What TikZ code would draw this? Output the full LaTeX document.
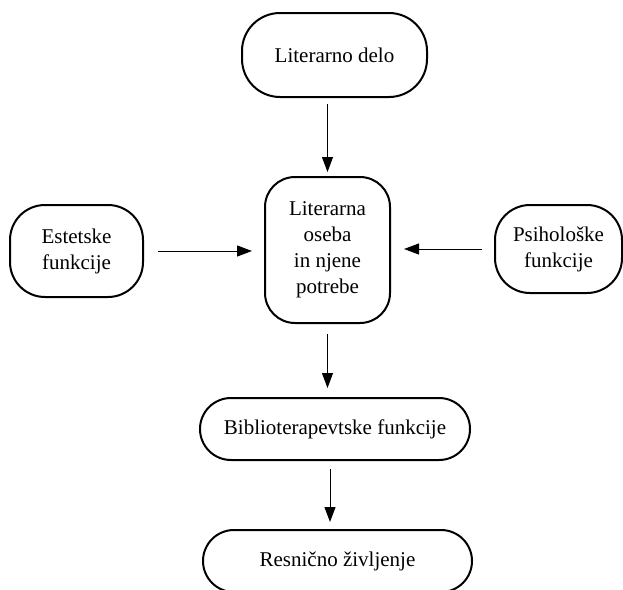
\documentclass[tikz,border=0pt]{standalone}
\usepackage{fontspec}
\setmainfont{Liberation Serif}
\usetikzlibrary{arrows.meta}
\begin{document}
\begin{tikzpicture}[x=1pt, y=-1pt,
  box/.style={draw, line width=2pt, inner sep=0pt, align=center,
    font=\fontsize{21}{26}\selectfont},
  arr/.style={line width=1pt, -{Triangle[length=15pt, width=11pt]}}]
  \useasboundingbox (0,0) rectangle (623,589);
  \clip (0,0) rectangle (623,589);

  % boxes
  \node[box, rounded corners=38pt, minimum width=185pt, minimum height=84pt]
    (lit) at (334.5,55) {Literarno delo};
  \node[box, rounded corners=30pt, minimum width=125pt, minimum height=146pt]
    (oseba) at (327.5,250) {Literarna\\oseba\\in njene\\potrebe};
  \node[box, rounded corners=35pt, minimum width=133pt, minimum height=92pt]
    (est) at (76.5,251) {Estetske\\funkcije};
  \node[box, rounded corners=35pt, minimum width=127pt, minimum height=88pt]
    (psi) at (558.5,249) {Psihološke\\funkcije};
  \node[box, rounded corners=31pt, minimum width=270pt, minimum height=62pt]
    (bib) at (335,429) {Biblioterapevtske funkcije};
  \node[box, rounded corners=31pt, minimum width=269pt, minimum height=62pt]
    (res) at (337.5,561) {Resnično življenje};

  % connectors
  \draw[arr, shorten <=6pt, shorten >=4pt] (oseba.north |- lit.south) -- (oseba.north);
  \draw[arr, shorten <=14pt, shorten >=12pt] (est.east) -- (est.east -| oseba.west);
  \draw[arr, shorten <=12pt, shorten >=13pt] (psi.west) -- (psi.west -| oseba.east);
  \draw[arr, shorten <=10pt, shorten >=9pt] (oseba.south) -- (oseba.south |- bib.north);
  \draw[arr, shorten <=8pt, shorten >=7pt] ([xshift=-5pt]bib.south) -- ([xshift=-5pt]bib.south |- res.north);
\end{tikzpicture}
\end{document}
